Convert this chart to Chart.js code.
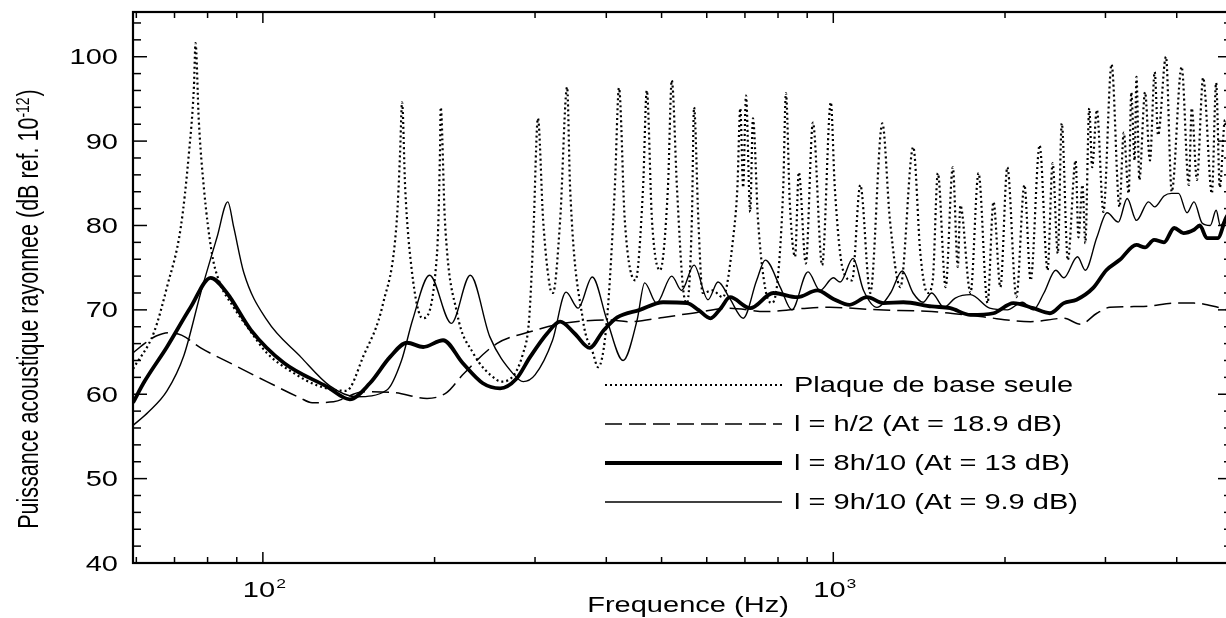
<!DOCTYPE html>
<html>
<head>
<meta charset="utf-8">
<script src="https://cdn.jsdelivr.net/npm/chart.js@4/dist/chart.umd.min.js"></script>
<style>
  html, body { margin: 0; padding: 0; background: #fff; overflow: hidden; }
  #wrap { width: 1240px; height: 618px; position: relative; }
</style>
</head>
<body>
<div id="wrap"><canvas id="chart"></canvas></div>
<script>
// values (frequency in Hz, level in dB)
const plaqueFreq = [59.2, 64.4, 67.9, 71.8, 74.2, 75.7, 76.2, 77.2, 78.8, 81.4, 83.7, 88.9, 95, 101.6, 113.3, 125, 140, 150, 162.5,
  171.7, 174, 175.4, 177.6, 182.4, 190.5, 202, 204.4, 205, 208.5, 219, 233.6, 257, 263, 286, 293, 298, 303.5, 310, 318.6, 322.5,
  332, 341.5, 345.6, 364, 379, 387, 401, 414, 421, 431, 450, 464, 471, 481, 497, 513, 521, 532, 545, 554, 565, 570, 580, 590, 614,
  640, 669, 679, 687, 695, 703, 715, 723, 738, 760, 781, 800, 817, 826, 839, 857, 870, 895, 921, 956, 990, 1006, 1040, 1079, 1115,
  1161, 1219, 1257, 1311, 1381, 1421, 1463, 1494, 1525, 1574, 1620, 1653, 1670, 1740, 1797, 1864, 1909, 1963, 2019, 2094, 2163,
  2218, 2300, 2375, 2424, 2475, 2515, 2577, 2660, 2690, 2734, 2766, 2810, 2843, 2898, 2975, 3075, 3175, 3230, 3295, 3330, 3375,
  3400, 3440, 3520, 3590, 3660, 3710, 3830, 3920, 4080, 4200, 4250, 4340, 4450, 4610, 4690, 4760, 4860, 5000];
const plaqueDb = [63.0, 67.3, 72.7, 79.8, 88.6, 96.4, 101.6, 92.5, 84.5, 76.7, 73.5, 70.3, 67.5, 64.9, 62.5, 61.0, 60.4, 64.5, 70.8,
  80.6, 88.6, 94.6, 84.5, 74.7, 69.0, 76.7, 88.6, 94.0, 80.6, 69.6, 64.9, 61.7, 61.5, 64.9, 69.0, 79.0, 92.7, 80.6, 72.7, 72.0,
  80.6, 96.4, 84.5, 68.8, 64.9, 63.2, 68.8, 84.5, 96.3, 80.6, 73.5, 84.5, 96.0, 80.6, 74.7, 84.5, 97.2, 84.5, 72.7, 70.8, 80.6, 94.0, 80.6, 72.0, 72.3,
  71.5, 79.1, 84.5, 93.9, 84.5, 95.4, 81.6, 92.7, 80.6, 72.5, 70.8, 74.0, 84.5, 95.7, 82.7, 76.3, 86.3, 75.5, 92.2, 75.3, 94.6, 84.5, 74.7, 73.5, 84.8,
  72.0, 92.1, 80.6, 72.7, 89.3, 76.7, 72.0, 73.5, 86.2, 72.7, 86.9, 75.1, 82.4, 72.0, 86.2, 70.8, 82.8, 72.7, 86.9, 71.5, 84.8,
  73.5, 89.5, 74.7, 87.4, 76.7, 92.1, 75.9, 87.7, 78.6, 84.8, 77.9, 93.9, 86.9, 93.7, 81.6, 99.1, 82.2, 91.0, 83.8, 95.8, 87.7,
  97.6, 85.4, 95.8, 87.7, 98.2, 90.7, 100.0, 84.0, 98.8, 84.8, 93.9, 85.4, 97.5, 83.8, 96.9, 84.5, 92.5, 86.0];

const halfFreq = [59.2, 62, 65, 68.4, 72, 77.8, 88.8, 101.6, 116, 122, 133, 150, 170, 194, 210, 224, 257, 294, 336, 401, 440, 503,
  577, 659, 760, 900, 986, 1200, 1488, 1810, 2218, 2536, 2712, 2898, 3055, 3500, 3990, 4290, 4720, 5000];
const halfDb = [64.9, 66.0, 66.9, 67.3, 67.0, 65.5, 63.5, 61.5, 59.6, 59.0, 59.1, 60.3, 60.2, 59.5, 60.2, 62.3, 66.0, 67.4, 68.4, 68.8, 68.6, 69.1,
  69.7, 70.2, 69.8, 70.2, 70.3, 70.0, 69.8, 69.2, 68.6, 69.0, 68.3, 69.6, 70.3, 70.4, 70.8, 70.8, 70.3, 69.8];

const eightFreq = [59.2, 62, 67.9, 74.7, 81.0, 86.5, 95.3, 108.9, 129.5, 142, 154, 167, 179, 191, 207, 224, 243, 260.5, 278, 294,
  315, 332, 352, 374, 395, 418, 458, 503, 554, 580, 609, 635, 659, 715, 785, 865, 937, 1000, 1068, 1146, 1225, 1327, 1488, 1604,
  1740, 1909, 2068, 2241, 2398, 2536, 2670, 2855, 3010, 3175, 3400, 3520, 3650, 3800, 3960, 4110, 4290, 4390, 4520, 4720, 4880, 5000];
const eightDb = [59.0, 61.5, 65.6, 70.3, 73.8, 72.0, 67.6, 63.7, 60.9, 59.4, 61.3, 64.4, 66.1, 65.6, 66.4, 63.7, 61.3, 60.7, 61.8, 64.4,
  67.2, 68.6, 67.2, 65.5, 67.5, 69.1, 70.0, 70.9, 70.8, 70.0, 69.0, 70.2, 71.5, 70.2, 72.0, 71.5, 72.3, 71.3, 70.6, 71.5, 70.8, 70.9, 70.4, 70.2,
  69.4, 69.6, 70.8, 70.2, 69.6, 70.8, 71.2, 72.6, 74.7, 75.9, 77.7, 77.4, 78.3, 78.0, 79.7, 79.1, 79.5, 80.0, 78.5, 78.5, 80.9, 82.0];

const nineFreq = [59.2, 63, 67.9, 72.7, 77.8, 83.1, 86.8, 88.9, 92.6, 101.6, 116.6, 131, 146, 165, 175, 183, 196, 214, 231, 250,
  274, 286, 300, 322, 340, 357, 378, 401, 428, 453, 467, 490, 521, 542, 570, 603, 628, 659, 695, 734, 760, 807, 846, 903, 948,
  1000, 1028, 1083, 1130, 1193, 1260, 1321, 1380, 1437, 1488, 1563, 1636, 1740, 1880, 2019, 2145, 2241, 2340, 2455, 2536, 2680,
  2766, 2898, 3020, 3160, 3275, 3400, 3570, 3660, 3800, 3920, 4030, 4170, 4290, 4430, 4580, 4690, 4770, 4880, 5000];
const nineDb = [56.3, 57.9, 60.4, 64.6, 72.0, 78.6, 82.8, 79.8, 74.4, 68.8, 64.4, 61.0, 59.7, 60.5, 64.0, 68.8, 74.1, 68.4, 74.1, 66.8,
  62.5, 61.5, 62.3, 66.4, 72.1, 70.2, 73.9, 68.8, 64.0, 68.8, 73.2, 70.8, 74.0, 72.3, 75.3, 71.2, 73.3, 71.3, 69.0, 73.5, 75.9, 72.7, 70.0, 74.5, 72.3,
  73.8, 73.3, 76.1, 72.3, 70.3, 72.0, 74.6, 72.0, 70.9, 72.0, 70.3, 71.4, 71.8, 70.2, 70.0, 70.9, 70.0, 72.0, 74.7, 73.8, 76.3,
  74.7, 78.6, 81.5, 80.4, 83.2, 80.6, 82.8, 82.2, 83.5, 83.8, 83.8, 81.5, 82.8, 80.3, 80.0, 81.8, 80.0, 81.0, 82.0];

const seriesLabels = ['Plaque de base seule', 'l = h/2 (At = 18.9 dB)', 'l = 8h/10 (At = 13 dB)', 'l = 9h/10 (At = 9.9 dB)'];
const yTicks = [40, 50, 60, 70, 80, 90, 100];
const xMajor = [100, 1000];
const xMajorLabels = ['2', '3'];
const xMinor = [60, 70, 80, 90, 200, 300, 400, 500, 600, 700, 800, 900, 2000, 3000, 4000];

const SX = 1.35; // the figure is stretched horizontally
const FONT = '"Liberation Sans", Arial, Helvetica, sans-serif';

function pts(fs, ds) { return fs.map((f, i) => ({ x: f, y: ds[i] })); }

const styles = [
  { borderWidth: 2.2, borderDash: [2, 3] },
  { borderWidth: 1.5, borderDash: [17, 7] },
  { borderWidth: 3.8, borderDash: [] },
  { borderWidth: 1.4, borderDash: [] }
];

function sText(ctx, text, x, y, align) {
  const w = ctx.measureText(text).width * SX;
  const x0 = align === 'right' ? x - w : align === 'center' ? x - w / 2 : x;
  ctx.save();
  ctx.translate(x0, y);
  ctx.scale(SX, 1);
  ctx.textAlign = 'left';
  ctx.fillText(text, 0, 0);
  ctx.restore();
  return w;
}

const frame = {
  id: 'frame',
  afterDraw(chart) {
    const { ctx, chartArea: a } = chart;
    const x = chart.scales.x, y = chart.scales.y;
    ctx.save();
    ctx.strokeStyle = '#000';
    ctx.fillStyle = '#000';
    ctx.lineWidth = 2.2;
    ctx.strokeRect(a.left, a.top, a.right - a.left, a.bottom - a.top);

    ctx.lineWidth = 1.5;
    const seg = (x1, y1, x2, y2) => { ctx.beginPath(); ctx.moveTo(x1, y1); ctx.lineTo(x2, y2); ctx.stroke(); };
    for (let v = 40; v <= 104; v += 2) {
      const py = y.getPixelForValue(v);
      const len = v % 10 === 0 ? 14 : 8;
      seg(a.left, py, a.left + len, py);
      seg(a.right, py, a.right - len, py);
    }
    xMajor.forEach(v => {
      const px = x.getPixelForValue(v);
      seg(px, a.bottom, px, a.bottom - 11);
      seg(px, a.top, px, a.top + 11);
    });
    xMinor.forEach(v => {
      const px = x.getPixelForValue(v);
      seg(px, a.bottom, px, a.bottom - 6);
      seg(px, a.top, px, a.top + 6);
    });

    // tick labels
    ctx.textBaseline = 'alphabetic';
    ctx.font = '21.5px ' + FONT;
    yTicks.forEach(v => sText(ctx, String(v), 118, y.getPixelForValue(v) + 7.5, 'right'));
    xMajor.forEach((v, i) => {
      const px = x.getPixelForValue(v);
      ctx.font = '21.5px ' + FONT;
      const w1 = ctx.measureText('10').width * SX;
      ctx.font = '13px ' + FONT;
      const w2 = ctx.measureText(xMajorLabels[i]).width * SX;
      const x0 = px - (w1 + w2) / 2 + 1;
      ctx.font = '21.5px ' + FONT;
      sText(ctx, '10', x0, 597, 'left');
      ctx.font = '13px ' + FONT;
      sText(ctx, xMajorLabels[i], x0 + w1 + 1, 588, 'left');
    });

    // x title
    ctx.font = '21.5px ' + FONT;
    sText(ctx, 'Frequence (Hz)', 688, 612, 'center');

    // y title, rotated
    ctx.save();
    ctx.translate(38, 309);
    ctx.rotate(-Math.PI / 2);
    ctx.scale(1, SX);
    const main = 'Puissance acoustique rayonnee (dB ref. 10';
    ctx.font = '14px ' + FONT;
    const supW = ctx.measureText('-12').width;
    ctx.font = '21.5px ' + FONT;
    const mainW = ctx.measureText(main).width;
    const closeW = ctx.measureText(')').width;
    let tx = -(mainW + supW + closeW + 1) / 2;
    ctx.textAlign = 'left';
    ctx.fillText(main, tx, 0);
    tx += mainW;
    ctx.font = '14px ' + FONT;
    ctx.fillText('-12', tx, -7);
    tx += supW + 1;
    ctx.font = '21.5px ' + FONT;
    ctx.fillText(')', tx, 0);
    ctx.restore();

    // legend inside plot
    const rows = [385, 424, 463, 502];
    chart.data.datasets.forEach((ds, i) => {
      ctx.save();
      ctx.lineWidth = ds.borderWidth;
      ctx.setLineDash(ds.borderDash || []);
      ctx.beginPath();
      ctx.moveTo(605, rows[i]);
      ctx.lineTo(782, rows[i]);
      ctx.stroke();
      ctx.restore();
      ctx.font = '21.5px ' + FONT;
      sText(ctx, ds.label, 794, rows[i] + 6.5, 'left');
    });
    ctx.restore();
  }
};

new Chart(document.getElementById('chart'), {
  type: 'line',
  data: {
    datasets: [
      { label: seriesLabels[0], data: pts(plaqueFreq, plaqueDb) },
      { label: seriesLabels[1], data: pts(halfFreq, halfDb) },
      { label: seriesLabels[2], data: pts(eightFreq, eightDb) },
      { label: seriesLabels[3], data: pts(nineFreq, nineDb) }
    ].map((d, i) => Object.assign(d, styles[i], {
      borderColor: '#000',
      backgroundColor: '#000',
      pointRadius: 0,
      fill: false,
      cubicInterpolationMode: 'monotone',
      borderCapStyle: 'butt'
    }))
  },
  options: {
    responsive: true,
    maintainAspectRatio: false,
    animation: false,
    layout: { padding: { left: 133, top: 12, right: 8, bottom: 55 } },
    plugins: { legend: { display: false }, tooltip: { enabled: false } },
    scales: {
      x: { type: 'logarithmic', min: 59.2, max: 5000, display: false },
      y: { type: 'linear', min: 40, max: 105.3, display: false }
    }
  },
  plugins: [frame]
});
</script>
</body>
</html>
